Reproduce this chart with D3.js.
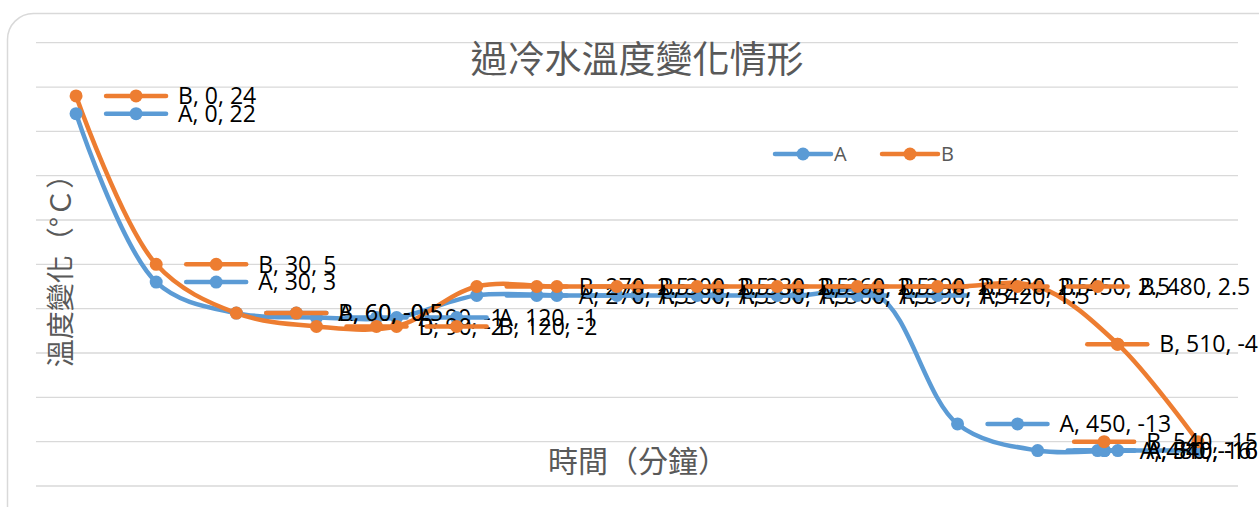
<!DOCTYPE html>
<html>
<head>
<meta charset="utf-8">
<script src="https://cdn.jsdelivr.net/npm/d3@7"></script>
<style>
  html, body { margin: 0; padding: 0; background: #fff; }
  svg { display: block; }
</style>
</head>
<body>
<svg id="chart" width="1259" height="507"></svg>
<script>
// chart data
var times = [0, 30, 60, 90, 120, 270, 300, 330, 360, 390, 420, 450, 480, 510, 540];
var seriesA = [22, 3, -0.5, -1, -1, 1.5, 1.5, 1.5, 1.5, 1.5, 1.5, -13, -16, -16, -16];
var seriesB = [24, 5, -0.5, -2, -2, 2.5, 2.5, 2.5, 2.5, 2.5, 2.5, 2.5, 2.5, -4, -15];
var gridTicks = [30, 25, 20, 15, 10, 5, 0, -5, -10, -15, -20];

var titleText = '過冷水溫度變化情形';
var xTitle = '時間（分鐘）';
var yTitle = '溫度變化（°Ｃ）';

var series = [
  {name: 'A', values: seriesA, color: '#5B9BD5'},
  {name: 'B', values: seriesB, color: '#ED7D31'}
];

var svg = d3.select('#chart');
var labelFont = '"Open Sans", sans-serif';
var cjkFont = '"Noto Sans CJK TC", sans-serif';
var rightLimit = 1258;

// chart frame (rounded, runs off the picture on the right and bottom)
svg.append('rect')
  .attr('x', 7.5).attr('y', 13.5)
  .attr('width', 1300).attr('height', 560)
  .attr('rx', 26).attr('ry', 26)
  .attr('fill', '#fff')
  .attr('stroke', '#d9d9d9')
  .attr('stroke-width', 1.5);

var x = d3.scalePoint()
  .domain(times)
  .range([36, 1238])
  .padding(0.5);

var y = d3.scaleLinear()
  .domain([-20, 30])
  .range([486, 42.7]);

// gridlines
svg.append('g').selectAll('line')
  .data(gridTicks)
  .join('line')
  .attr('x1', 36).attr('x2', 1238)
  .attr('y1', d => y(d)).attr('y2', d => y(d))
  .attr('stroke', '#d9d9d9')
  .attr('stroke-width', 1.3);

// titles
svg.append('text')
  .attr('x', 637).attr('y', 73)
  .attr('text-anchor', 'middle')
  .attr('font-family', cjkFont)
  .attr('font-size', 37)
  .attr('fill', '#595959')
  .text(titleText);

svg.append('text')
  .attr('x', 638).attr('y', 472)
  .attr('text-anchor', 'middle')
  .attr('font-family', cjkFont)
  .attr('font-size', 30)
  .attr('fill', '#595959')
  .text(xTitle);

svg.append('text')
  .attr('transform', 'translate(71,264) rotate(-90)')
  .attr('text-anchor', 'middle')
  .attr('font-family', cjkFont)
  .attr('font-size', 28)
  .attr('fill', '#595959')
  .text(yTitle);

// lines
var line = d3.line()
  .x(d => x(d.t))
  .y(d => y(d.v))
  .curve(d3.curveCatmullRom.alpha(0.5));

series.forEach(function(s){
  s.points = times.map((t, i) => ({t: t, v: s.values[i]}));
});

svg.append('g').selectAll('path')
  .data(series)
  .join('path')
  .attr('d', d => line(d.points))
  .attr('fill', 'none')
  .attr('stroke', d => d.color)
  .attr('stroke-width', 4.5)
  .attr('stroke-linejoin', 'round');

series.forEach(function(s){
  svg.append('g').selectAll('circle')
    .data(s.points)
    .join('circle')
    .attr('cx', d => x(d.t))
    .attr('cy', d => y(d.v))
    .attr('r', 6.5)
    .attr('fill', s.color);
});

// legend
var legend = svg.append('g');
[{s: series[0], x0: 775}, {s: series[1], x0: 882}].forEach(function(l){
  legend.append('line')
    .attr('x1', l.x0).attr('x2', l.x0 + 56)
    .attr('y1', 154).attr('y2', 154)
    .attr('stroke', l.s.color).attr('stroke-width', 4.5)
    .attr('stroke-linecap', 'round');
  legend.append('circle')
    .attr('cx', l.x0 + 28).attr('cy', 154).attr('r', 6.5)
    .attr('fill', l.s.color);
  legend.append('text')
    .attr('x', l.x0 + 59).attr('y', 154).attr('dy', '0.36em')
    .attr('font-family', labelFont).attr('font-size', 20)
    .attr('fill', '#595959')
    .text(l.s.name);
});

// data labels with legend keys (kept inside the chart on the right)
series.forEach(function(s){
  var g = svg.append('g');
  s.points.forEach(function(p){
    var px = x(p.t), py = y(p.v);
    var grp = g.append('g');
    var txt = grp.append('text')
      .attr('x', px + 102).attr('y', py).attr('dy', '0.36em')
      .attr('font-family', labelFont).attr('font-size', 23)
      .attr('fill', '#000')
      .text(s.name + ', ' + p.t + ', ' + p.v);
    var w = txt.node().getComputedTextLength();
    var shift = Math.min(0, rightLimit - (px + 102 + w));
    txt.attr('x', px + 102 + shift);
    grp.insert('line', 'text')
      .attr('x1', px + 30 + shift).attr('x2', px + 90 + shift)
      .attr('y1', py).attr('y2', py)
      .attr('stroke', s.color).attr('stroke-width', 4.5)
      .attr('stroke-linecap', 'round');
    grp.insert('circle', 'text')
      .attr('cx', px + 60 + shift).attr('cy', py).attr('r', 6.5)
      .attr('fill', s.color);
  });
});
</script>
</body>
</html>
